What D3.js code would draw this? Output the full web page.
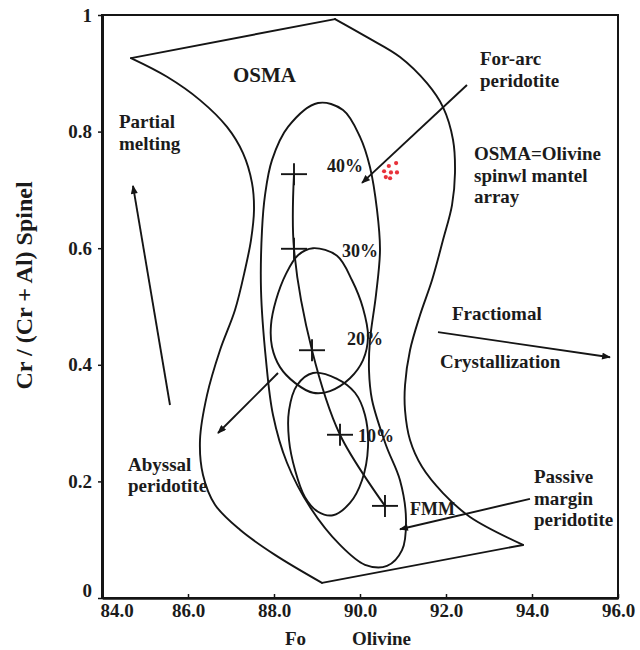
<!DOCTYPE html>
<html>
<head>
<meta charset="utf-8">
<script src="https://cdn.jsdelivr.net/npm/d3@7"></script>
<style>
  body { margin: 0; background: #fff; }
  text { font-family: "Liberation Serif", "Times New Roman", serif; font-weight: bold; fill: #1b1b1b; }
</style>
</head>
<body>
<svg id="chart" width="640" height="650"></svg>
<script>
// ---- Axes ----
const xTicks = [84, 86, 88, 90, 92, 94, 96];
const xTickLabels = ["84.0", "86.0", "88.0", "90.0", "92.0", "94.0", "96.0"];
const yTicks = [0, 0.2, 0.4, 0.6, 0.8, 1];
const yTickLabels = ["0", "0.2", "0.4", "0.6", "0.8", "1"];
const xTitleWords = ["Fo", "Olivine"];
const xTitleFo = [88.5, 90.5];
const yTitle = "Cr / (Cr + Al) Spinel";

// ---- OSMA band (Fo, Cr#) ----
const osmaTopEdge = [[84.674, 0.926], [89.419, 0.993]];
const osmaRightEdge = [
  [89.419, 0.993], [90.163, 0.962], [90.930, 0.928], [91.558, 0.883], [91.930, 0.842],
  [92.163, 0.786], [92.209, 0.729], [92.140, 0.674], [91.930, 0.614], [91.674, 0.545],
  [91.395, 0.485], [91.163, 0.425], [91.047, 0.365], [91.047, 0.322], [91.163, 0.271],
  [91.442, 0.225], [91.930, 0.180], [92.558, 0.139], [93.791, 0.091]
];
const osmaBottomEdge = [[93.791, 0.091], [89.116, 0.026]];
const osmaLeftEdge = [
  [84.674, 0.926], [85.512, 0.894], [86.279, 0.854], [86.907, 0.808], [87.279, 0.763],
  [87.488, 0.712], [87.535, 0.666], [87.465, 0.614], [87.326, 0.563], [87.093, 0.494],
  [86.744, 0.425], [86.442, 0.348], [86.279, 0.271], [86.349, 0.211], [86.628, 0.160],
  [87.209, 0.117], [88.023, 0.074], [89.116, 0.026]
];

// ---- Peridotite fields ----
const forearcField = [
  [89.023, 0.849], [89.605, 0.837], [90.000, 0.791], [90.233, 0.739], [90.395, 0.666],
  [90.465, 0.597], [90.372, 0.520], [90.233, 0.443], [90.209, 0.391], [90.279, 0.340],
  [90.605, 0.262], [90.930, 0.202], [91.070, 0.134], [90.977, 0.082], [90.628, 0.055],
  [90.116, 0.057], [89.535, 0.091], [88.837, 0.156], [88.302, 0.232], [87.977, 0.314],
  [87.814, 0.408], [87.698, 0.528], [87.721, 0.631], [87.791, 0.691], [87.953, 0.751],
  [88.326, 0.808]
];
const abyssalField = [
  [88.907, 0.600], [89.465, 0.587], [89.814, 0.545], [90.070, 0.497], [90.186, 0.448],
  [90.070, 0.408], [89.767, 0.377], [89.302, 0.355], [88.907, 0.352], [88.488, 0.369],
  [88.140, 0.396], [87.953, 0.431], [87.930, 0.468], [88.047, 0.511], [88.279, 0.556],
  [88.558, 0.588]
];
const passiveField = [
  [88.907, 0.386], [89.465, 0.376], [89.884, 0.352], [90.116, 0.314], [90.186, 0.259],
  [90.047, 0.202], [89.767, 0.163], [89.372, 0.142], [89.023, 0.148], [88.721, 0.173],
  [88.488, 0.220], [88.349, 0.271], [88.349, 0.322], [88.535, 0.365]
];

// ---- Melting trend from FMM ----
const meltingSteps = ["40%", "30%", "20%", "10%", "FMM"];
const meltingFo = [88.465, 88.465, 88.884, 89.535, 90.581];
const meltingCr = [0.727, 0.599, 0.425, 0.280, 0.158];
const stepLabelFo = [89.233, 89.581, 89.698, 89.953, 91.163];
const stepLabelCr = [0.731, 0.585, 0.434, 0.268, 0.142];

// ---- Analysed spinels ----
const sampleFo = [90.84, 90.67, 90.56, 90.72, 90.86, 90.70, 90.60];
const sampleCr = [0.746, 0.741, 0.732, 0.730, 0.730, 0.720, 0.722];

// ---- Arrows [fromFo, fromCr, toFo, toCr] ----
const arrows = [
  [85.581, 0.331, 84.721, 0.707],   // partial melting
  [88.093, 0.386, 86.698, 0.283],   // abyssal peridotite
  [92.488, 0.880, 90.047, 0.712],   // fore-arc peridotite
  [91.814, 0.456, 95.814, 0.413],   // fractional crystallization
  [93.953, 0.170, 90.930, 0.118]    // passive margin peridotite
];

// ---- Annotations ----
const fieldTitle = { text: "OSMA", fo: 87.047, cr: 0.885 };
const annotations = [
  { lines: ["Partial", "melting"], fo: 84.395, cr: 0.806 },
  { lines: ["For-arc", "peridotite"], fo: 92.791, cr: 0.914 },
  { lines: ["OSMA=Olivine", "spinwl mantel", "array"], fo: 92.651, cr: 0.751 },
  { lines: ["Fractiomal"], fo: 92.140, cr: 0.477 },
  { lines: ["Crystallization"], fo: 91.860, cr: 0.395 },
  { lines: ["Abyssal", "peridotite"], fo: 84.605, cr: 0.218 },
  { lines: ["Passive", "margin", "peridotite"], fo: 94.047, cr: 0.197 }
];

// ================= drawing =================
const svg = d3.select("#chart");
const x = d3.scaleLinear().domain([84, 96]).range([102, 618]);
const y = d3.scaleLinear().domain([0, 1]).range([598, 15]);
const ink = "#151515";

const defs = svg.append("defs");
defs.append("marker")
  .attr("id", "head")
  .attr("viewBox", "0 0 10 8")
  .attr("refX", 9).attr("refY", 4)
  .attr("markerWidth", 10).attr("markerHeight", 7)
  .attr("markerUnits", "userSpaceOnUse")
  .attr("orient", "auto")
  .append("path").attr("d", "M0,0 L10,4 L0,8 Z").attr("fill", ink);

// frame
svg.append("rect")
  .attr("x", x(84)).attr("y", y(1))
  .attr("width", x(96) - x(84)).attr("height", y(0) - y(1))
  .attr("fill", "none").attr("stroke", ink).attr("stroke-width", 2);

// axes
const yAxis = svg.append("g").attr("transform", `translate(${x(84)},0)`)
  .call(d3.axisLeft(y).tickValues(yTicks).tickSizeInner(4).tickSizeOuter(0).tickPadding(6)
    .tickFormat((d, i) => yTickLabels[i]));
yAxis.select(".domain").attr("stroke", ink).attr("stroke-width", 3);
yAxis.selectAll(".tick line").attr("stroke", ink).attr("stroke-width", 1.5);
yAxis.selectAll(".tick text").style("font-size", "19px").attr("fill", ink)
  .attr("dy", (d) => d === 0 ? "-0.1em" : "0.32em");

const xAxis = svg.append("g").attr("transform", `translate(0,${y(0)})`)
  .call(d3.axisBottom(x).tickValues(xTicks).tickSizeInner(-4).tickSizeOuter(0).tickPadding(6)
    .tickFormat((d, i) => xTickLabels[i]));
xAxis.select(".domain").attr("stroke", ink).attr("stroke-width", 2.5);
xAxis.selectAll(".tick line").attr("stroke", ink).attr("stroke-width", 1.5);
xAxis.selectAll(".tick text").style("font-size", "19px").attr("fill", ink)
  .attr("text-anchor", (d) => d === 84 ? "start" : "middle")
  .attr("dx", (d) => d === 84 ? -2 : 0);
svg.selectAll("g").attr("font-family", null).attr("font-size", null);

// axis titles
svg.selectAll(".xtitle").data(xTitleWords).join("text")
  .attr("class", "xtitle")
  .attr("x", (d, i) => x(xTitleFo[i]))
  .attr("y", 645)
  .attr("text-anchor", "middle")
  .style("font-size", "19px")
  .text((d) => d);

svg.append("text")
  .attr("transform", `translate(32,${(y(0) + y(1)) / 2 - 21}) rotate(-90)`)
  .attr("text-anchor", "middle")
  .style("font-size", "24px")
  .text(yTitle);

// curves
const lineOpen = d3.line().x((d) => x(d[0])).y((d) => y(d[1])).curve(d3.curveCatmullRom);
const lineStraight = d3.line().x((d) => x(d[0])).y((d) => y(d[1]));
const lineClosed = d3.line().x((d) => x(d[0])).y((d) => y(d[1])).curve(d3.curveCatmullRomClosed);

const curveStyle = (sel) => sel.attr("fill", "none").attr("stroke", ink)
  .attr("stroke-width", 1.9).attr("stroke-linejoin", "round").attr("stroke-linecap", "round");

svg.append("path").attr("d", lineStraight(osmaTopEdge)).call(curveStyle);
svg.append("path").attr("d", lineOpen(osmaRightEdge)).call(curveStyle);
svg.append("path").attr("d", lineStraight(osmaBottomEdge)).call(curveStyle);
svg.append("path").attr("d", lineOpen(osmaLeftEdge)).call(curveStyle);

[forearcField, abyssalField, passiveField].forEach((f) => {
  svg.append("path").attr("d", lineClosed(f)).call(curveStyle);
});

// melting trend and steps
const trend = meltingFo.map((fo, i) => [fo, meltingCr[i]]);
svg.append("path").attr("d", lineOpen(trend)).call(curveStyle);

const steps = svg.selectAll(".step").data(meltingSteps).join("g").attr("class", "step")
  .attr("transform", (d, i) => `translate(${x(meltingFo[i])},${y(meltingCr[i])})`);
steps.append("line").attr("x1", -13).attr("x2", 13).attr("y1", 0).attr("y2", 0)
  .attr("stroke", ink).attr("stroke-width", 1.9);
steps.append("line").attr("x1", 0).attr("x2", 0).attr("y1", -11).attr("y2", 11)
  .attr("stroke", ink).attr("stroke-width", 1.9);

svg.selectAll(".steplabel").data(meltingSteps).join("text").attr("class", "steplabel")
  .attr("x", (d, i) => x(stepLabelFo[i]))
  .attr("y", (d, i) => y(stepLabelCr[i]))
  .style("font-size", "18px")
  .text((d) => d);

// arrows
svg.selectAll(".arrow").data(arrows).join("line").attr("class", "arrow")
  .attr("x1", (d) => x(d[0])).attr("y1", (d) => y(d[1]))
  .attr("x2", (d) => x(d[2])).attr("y2", (d) => y(d[3]))
  .attr("stroke", ink).attr("stroke-width", 1.9)
  .attr("marker-end", "url(#head)");

// samples
svg.selectAll(".sample").data(sampleFo).join("circle").attr("class", "sample")
  .attr("cx", (d) => x(d)).attr("cy", (d, i) => y(sampleCr[i]))
  .attr("r", 2.1).attr("fill", "#e8323a");

// annotations
svg.append("text")
  .attr("x", x(fieldTitle.fo)).attr("y", y(fieldTitle.cr))
  .style("font-size", "21px")
  .text(fieldTitle.text);

annotations.forEach((a) => {
  const t = svg.append("text")
    .attr("x", x(a.fo)).attr("y", y(a.cr))
    .style("font-size", "19px");
  a.lines.forEach((ln, i) => {
    t.append("tspan").attr("x", x(a.fo)).attr("dy", i === 0 ? 0 : 21.5).text(ln);
  });
});
</script>
</body>
</html>
